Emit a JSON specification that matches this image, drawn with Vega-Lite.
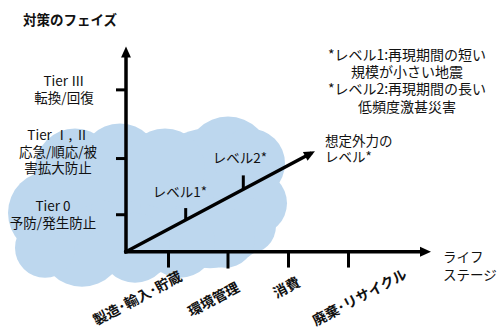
{
  "$schema": "https://vega.github.io/schema/vega-lite/v6.json",
  "width": 501,
  "height": 329,
  "padding": 0,
  "autosize": {"type": "fit", "contains": "padding"},
  "background": "white",
  "config": {"view": {"stroke": null}, "text": {"font": "Noto Sans CJK JP", "fontSize": 13.5, "color": "#111"}},
  "datasets": {
    "cloud": [
      {"x": 150, "y": 205, "r": 70},
      {"x": 210, "y": 200, "r": 70},
      {"x": 228, "y": 160, "r": 42},
      {"x": 250, "y": 165, "r": 35},
      {"x": 255, "y": 205, "r": 32},
      {"x": 248, "y": 228, "r": 28},
      {"x": 225, "y": 240, "r": 30},
      {"x": 180, "y": 245, "r": 35},
      {"x": 135, "y": 250, "r": 35},
      {"x": 82, "y": 247, "r": 42},
      {"x": 50, "y": 215, "r": 42},
      {"x": 75, "y": 170, "r": 40},
      {"x": 120, "y": 165, "r": 40},
      {"x": 165, "y": 170, "r": 40},
      {"x": 45, "y": 250, "r": 30}
    ],
    "segs": [
      {"kind": "axis", "x": 126, "y": 254, "x2": 126, "y2": 56},
      {"kind": "axis", "x": 126, "y": 254, "x2": 424, "y2": 254},
      {"kind": "axis", "x": 126, "y": 254, "x2": 310, "y2": 155.3},
      {"kind": "tick", "x": 116, "y": 90.7, "x2": 126, "y2": 90.7},
      {"kind": "tick", "x": 116, "y": 160, "x2": 126, "y2": 160},
      {"kind": "tick", "x": 116, "y": 216.7, "x2": 126, "y2": 216.7},
      {"kind": "tick", "x": 168.5, "y": 254, "x2": 168.5, "y2": 270},
      {"kind": "tick", "x": 228, "y": 254, "x2": 228, "y2": 271},
      {"kind": "tick", "x": 288.5, "y": 254, "x2": 288.5, "y2": 270},
      {"kind": "tick", "x": 348.5, "y": 254, "x2": 348.5, "y2": 270},
      {"kind": "tick", "x": 185.7, "y": 210, "x2": 185.7, "y2": 222},
      {"kind": "tick", "x": 243.3, "y": 177, "x2": 243.3, "y2": 191}
    ],
    "heads": [
      {"dir": "up", "x": 126, "y": 52.5},
      {"dir": "right", "x": 425.5, "y": 254},
      {"dir": "diag", "x": 310.1, "y": 155.3}
    ],
    "texts": [
      {"g": "title", "x": 70, "y": 21.5, "t": "対策のフェイズ"},
      {"g": "c", "x": 64, "y": 82.5, "t": "Tier Ⅲ\n転換/回復"},
      {"g": "c", "x": 58, "y": 137, "t": "Tier Ⅰ, Ⅱ\n応急/順応/被\n害拡大防止"},
      {"g": "c", "x": 53, "y": 209, "t": "Tier 0\n予防/発生防止"},
      {"g": "c", "x": 180, "y": 195, "t": "レベル1*"},
      {"g": "c", "x": 240, "y": 160, "t": "レベル2*"},
      {"g": "legend", "x": 407, "y": 56.5, "t": "*レベル1:再現期間の短い\n規模が小さい地震\n*レベル2:再現期間の長い\n低頻度激甚災害"},
      {"g": "left", "x": 325, "y": 143.5, "t": "想定外力の\nレベル*"},
      {"g": "left2", "x": 443, "y": 260, "t": "ライフ\nステージ"},
      {"g": "xlab", "x": 138, "y": 302, "t": "製造･輸入･貯蔵"},
      {"g": "xlab", "x": 214, "y": 303, "t": "環境管理"},
      {"g": "xlab", "x": 287, "y": 291, "t": "消費"},
      {"g": "xlab", "x": 360, "y": 301, "t": "廃棄･リサイクル"}
    ]
  },
  "encoding": {
    "x": {"field": "x", "type": "quantitative", "scale": {"domain": [0, 501], "nice": false, "zero": false}, "axis": null},
    "y": {"field": "y", "type": "quantitative", "scale": {"domain": [0, 329], "nice": false, "zero": false, "reverse": true}, "axis": null}
  },
  "layer": [
    {
      "data": {"name": "cloud"},
      "mark": {"type": "circle", "color": "#bdd7ee", "opacity": 1, "strokeWidth": 0},
      "encoding": {
        "size": {"field": "r", "type": "quantitative", "scale": {"type": "pow", "exponent": 2, "domain": [0, 100], "range": [0, 40000]}, "legend": null}
      }
    },
    {
      "data": {"name": "segs"},
      "transform": [{"filter": "datum.kind == 'axis'"}],
      "mark": {"type": "rule", "color": "black", "strokeWidth": 3.5, "strokeCap": "square"},
      "encoding": {"x2": {"field": "x2"}, "y2": {"field": "y2"}}
    },
    {
      "data": {"name": "segs"},
      "transform": [{"filter": "datum.kind == 'tick'"}],
      "mark": {"type": "rule", "color": "black", "strokeWidth": 3},
      "encoding": {"x2": {"field": "x2"}, "y2": {"field": "y2"}}
    },
    {
      "data": {"name": "heads"},
      "transform": [{"filter": "datum.dir == 'up'"}],
      "mark": {"type": "point", "shape": "M1,0L-1,-0.9L-1,0.9Z", "filled": true, "color": "black", "opacity": 1, "size": 121, "angle": 270}
    },
    {
      "data": {"name": "heads"},
      "transform": [{"filter": "datum.dir == 'right'"}],
      "mark": {"type": "point", "shape": "M1,0L-1,-0.9L-1,0.9Z", "filled": true, "color": "black", "opacity": 1, "size": 121, "angle": 0}
    },
    {
      "data": {"name": "heads"},
      "transform": [{"filter": "datum.dir == 'diag'"}],
      "mark": {"type": "point", "shape": "M1,0L-1,-0.9L-1,0.9Z", "filled": true, "color": "black", "opacity": 1, "size": 121, "angle": 332}
    },
    {
      "data": {"name": "texts"},
      "transform": [{"filter": "datum.g == 'title'"}],
      "mark": {"type": "text", "align": "center", "baseline": "middle", "fontWeight": "bold", "fontSize": 13.5},
      "encoding": {"text": {"field": "t"}}
    },
    {
      "data": {"name": "texts"},
      "transform": [{"filter": "datum.g == 'c'"}],
      "mark": {"type": "text", "align": "center", "baseline": "middle", "lineBreak": "\n", "lineHeight": 16.8},
      "encoding": {"text": {"field": "t"}}
    },
    {
      "data": {"name": "texts"},
      "transform": [{"filter": "datum.g == 'legend'"}],
      "mark": {"type": "text", "align": "center", "baseline": "middle", "fontSize": 14, "lineBreak": "\n", "lineHeight": 17.2},
      "encoding": {"text": {"field": "t"}}
    },
    {
      "data": {"name": "texts"},
      "transform": [{"filter": "datum.g == 'left'"}],
      "mark": {"type": "text", "align": "left", "baseline": "middle", "lineBreak": "\n", "lineHeight": 16},
      "encoding": {"text": {"field": "t"}}
    },
    {
      "data": {"name": "texts"},
      "transform": [{"filter": "datum.g == 'left2'"}],
      "mark": {"type": "text", "align": "left", "baseline": "middle", "lineBreak": "\n", "lineHeight": 18.5},
      "encoding": {"text": {"field": "t"}}
    },
    {
      "data": {"name": "texts"},
      "transform": [{"filter": "datum.g == 'xlab'"}],
      "mark": {"type": "text", "align": "center", "baseline": "middle", "angle": 332, "fontSize": 14, "fontWeight": "bold"},
      "encoding": {"text": {"field": "t"}}
    }
  ]
}
